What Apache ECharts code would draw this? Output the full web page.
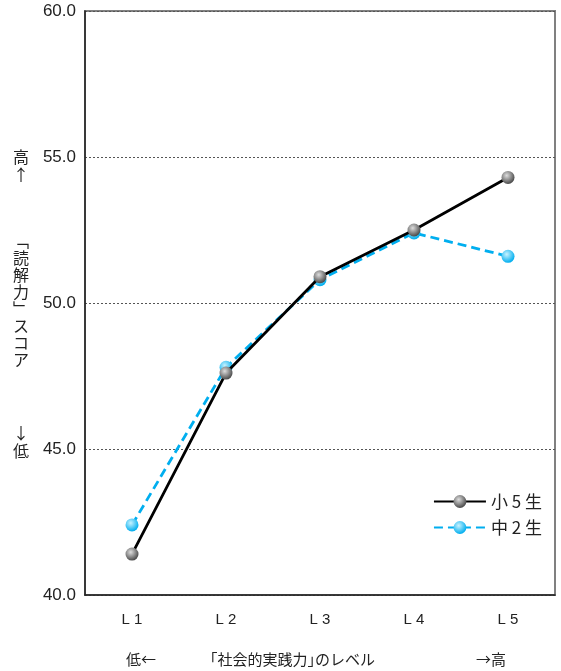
<!DOCTYPE html>
<html>
<head>
<meta charset="utf-8">
<script src="https://cdn.jsdelivr.net/npm/echarts@6/dist/echarts.min.js"></script>
<style>
  html, body { margin: 0; padding: 0; background: #fff; }
  #chart { width: 561px; height: 671px; }
</style>
</head>
<body>
<div id="chart"></div>
<script>
// データ
const levels = ["L 1", "L 2", "L 3", "L 4", "L 5"];
const elem5 = [41.4, 47.6, 50.9, 52.5, 54.3];   // 小5生
const junior2 = [42.4, 47.8, 50.8, 52.4, 51.6]; // 中2生
const seriesNames = ["小 5 生", "中 2 生"];

const FONT = "'Liberation Sans', 'Noto Sans CJK JP', sans-serif";
const JP = "'Noto Sans CJK JP', sans-serif";

const ball = (hi, lo) => ({
  type: "radial", x: 0.4, y: 0.35, r: 0.65,
  colorStops: [{ offset: 0, color: hi }, { offset: 1, color: lo }],
});

const chart = echarts.init(document.getElementById("chart"));

const option = {
  animation: false,
  grid: {
    left: 85, top: 11, width: 470, height: 584,
    show: true, borderColor: "#808080", borderWidth: 2,
  },
  legend: {
    orient: "vertical",
    right: 14, top: 488,
    itemWidth: 52, itemHeight: 16, itemGap: 9,
    textStyle: { fontSize: 17, color: "#222", fontFamily: JP },
    data: seriesNames,
  },
  xAxis: {
    type: "category",
    data: levels,
    boundaryGap: true,
    axisLine: { lineStyle: { color: "#222", width: 1.5 } },
    axisTick: { inside: true, length: 15, interval: 0, lineStyle: { color: "#222" } },
    axisLabel: { margin: 17, fontSize: 15, color: "#222", fontFamily: FONT },
  },
  yAxis: {
    type: "value",
    min: 40, max: 60, interval: 5,
    axisLine: { show: true, lineStyle: { color: "#222", width: 1.5 } },
    axisTick: { show: false },
    axisLabel: {
      margin: 9, fontSize: 17, color: "#222", fontFamily: FONT,
      formatter: (v) => v.toFixed(1),
    },
    splitLine: { lineStyle: { color: "#555", type: [2, 2], width: 1 } },
  },
  series: [
    {
      name: seriesNames[1],
      type: "line",
      data: junior2,
      symbol: "circle", symbolSize: 13,
      lineStyle: { color: "#00aeef", width: 2.8, type: [9, 5] },
      itemStyle: { color: ball("#c8f2ff", "#00aeef") },
      z: 2,
    },
    {
      name: seriesNames[0],
      type: "line",
      data: elem5,
      symbol: "circle", symbolSize: 13,
      lineStyle: { color: "#000", width: 2.8 },
      itemStyle: { color: ball("#dddddd", "#4a4a4a") },
      z: 3,
    },
  ],
  graphic: [
    { type: "text", left: 13, top: 148, style: { text: "高\n↑", fontSize: 16, lineHeight: 18, fill: "#222", fontFamily: JP } },
    { type: "text", left: 13, top: 232, style: { text: "﹁\n読\n解\n力\n﹂\nス\nコ\nア", fontSize: 16, lineHeight: 17, fill: "#222", fontFamily: JP } },
    { type: "text", left: 13, top: 424, style: { text: "↓\n低", fontSize: 16, lineHeight: 18, fill: "#222", fontFamily: JP } },
    { type: "text", left: 126, top: 652, style: { text: "低←", fontSize: 15, fill: "#222", fontFamily: JP } },
    { type: "text", left: 210, top: 652, style: { text: "｢社会的実践力｣のレベル", fontSize: 15, fill: "#222", fontFamily: JP } },
    { type: "text", left: 476, top: 652, style: { text: "→高", fontSize: 15, fill: "#222", fontFamily: JP } },
  ],
};

chart.setOption(option);
</script>
</body>
</html>
